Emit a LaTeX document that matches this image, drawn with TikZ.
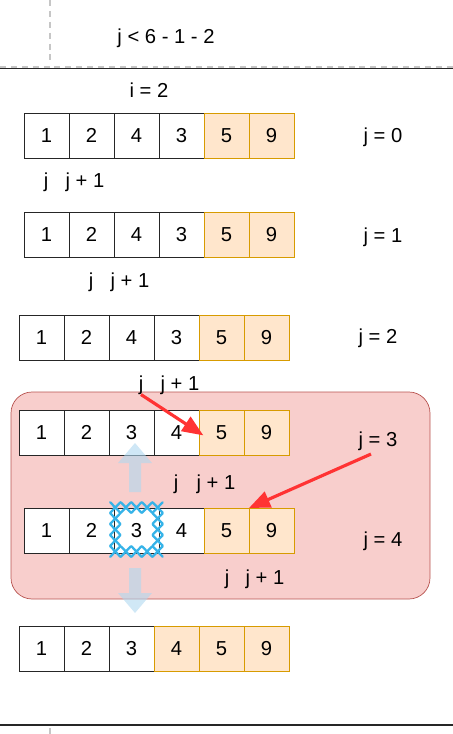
\documentclass[tikz,border=0pt]{standalone}
\usepackage{fontspec}
\setmainfont{Liberation Sans}
\usepackage{tikz}
\usetikzlibrary{positioning, arrows.meta}
\definecolor{sorted}{HTML}{FFE6CC}
\definecolor{sortedline}{HTML}{D79B00}
\definecolor{boxfill}{HTML}{F8CECC}
\definecolor{boxline}{HTML}{B85450}
\definecolor{hot}{HTML}{FF3333}
\definecolor{stitchblue}{HTML}{36B3E8}
\definecolor{moveblue}{HTML}{B0D8F0}
\tikzset{
    node distance=0.9cm, % cells sit side by side
    cell/.style={draw=black!85, fill=white, minimum size=0.9cm, inner sep=0pt, outer sep=0pt}, % one slot of the array
    done/.style={cell, fill=sorted, draw=sortedline}, % slots already in their place
    lbl/.style={anchor=base, inner sep=0pt}, % loose text
    swap/.style={draw=hot, line width=1.8pt, -{Triangle[length=12pt, width=9.5pt]}}, % the red pointers
    blockarr/.style={fill=moveblue, fill opacity=0.6}, % the 3 moving up and down
    stitch/.style={draw=stitchblue, line width=1.3pt, line cap=round}, % cross marks round the picked slot
}

\begin{document}
\begin{tikzpicture}[x=0.02cm, y=-0.02cm, font=\fontsize{11.5pt}{13pt}\selectfont]
    \useasboundingbox (0,0) rectangle (453,734);

    % frame lines
    \draw[gray!45, line width=0.85pt, dash pattern=on 3.4pt off 2.8pt] (50,0) -- (50,62);
    \draw[gray!45, line width=0.85pt, dash pattern=on 3.4pt off 2.8pt] (0,67) -- (453,67);
    \draw[black!85, line width=0.6pt] (0,68.5) -- (453,68.5);
    \draw[black!85, line width=0.6pt] (0,725) -- (453,725);
    \draw[gray!45, line width=0.85pt] (50,728) -- (50,734);

    \node[lbl] (cond) at (166,43) {j < 6 - 1 - 2};
    \node[lbl] (pass) at (149,97) {i = 2};

    % the box round j = 3 and j = 4
    \draw[boxline, fill=boxfill, rounded corners=12pt] (11,392) rectangle (430,599);

    % j = 0
    \node[cell] (a1) at (46.5,135.5) {1};
    \node[cell, right of=a1] (a2) {2};
    \node[cell, right of=a2] (a3) {4};
    \node[cell, right of=a3] (a4) {3};
    \node[done, right of=a4] (a5) {5};
    \node[done, right of=a5] (a6) {9};
    \node[lbl] (s0) at (383,142) {j = 0};
    \node[lbl] (ja) at (46,187) {j};
    \node[lbl] (ka) at (85,187) {j + 1};

    % j = 1
    \node[cell] (b1) at (46.5,234.5) {1};
    \node[cell, right of=b1] (b2) {2};
    \node[cell, right of=b2] (b3) {4};
    \node[cell, right of=b3] (b4) {3};
    \node[done, right of=b4] (b5) {5};
    \node[done, right of=b5] (b6) {9};
    \node[lbl] (s1) at (383,242) {j = 1};
    \node[lbl] (jb) at (91,287) {j};
    \node[lbl] (kb) at (130,287) {j + 1};

    % j = 2
    \node[cell] (c1) at (41.5,337.5) {1};
    \node[cell, right of=c1] (c2) {2};
    \node[cell, right of=c2] (c3) {4};
    \node[cell, right of=c3] (c4) {3};
    \node[done, right of=c4] (c5) {5};
    \node[done, right of=c5] (c6) {9};
    \node[lbl] (s2) at (378,343) {j = 2};
    \node[lbl] (jc) at (141,390) {j};
    \node[lbl] (kc) at (180,390) {j + 1};

    % j = 3
    \node[cell] (d1) at (41.5,432.5) {1};
    \node[cell, right of=d1] (d2) {2};
    \node[cell, right of=d2] (d3) {3};
    \node[cell, right of=d3] (d4) {4};
    \node[done, right of=d4] (d5) {5};
    \node[done, right of=d5] (d6) {9};
    \node[lbl] (s3) at (378,446) {j = 3};
    \node[lbl] (jd) at (176,489) {j};
    \node[lbl] (kd) at (216,489) {j + 1};

    % j = 4
    \node[cell] (e1) at (46.5,530.5) {1};
    \node[cell, right of=e1] (e2) {2};
    \node[cell, right of=e2] (e3) {3};
    \node[cell, right of=e3] (e4) {4};
    \node[done, right of=e4] (e5) {5};
    \node[done, right of=e5] (e6) {9};
    \node[lbl] (s4) at (383,546) {j = 4};
    \node[lbl] (je) at (227,584) {j};
    \node[lbl] (ke) at (265,584) {j + 1};

    % after the pass
    \node[cell] (f1) at (41.5,648.5) {1};
    \node[cell, right of=f1] (f2) {2};
    \node[cell, right of=f2] (f3) {3};
    \node[done, right of=f3] (f4) {4};
    \node[done, right of=f4] (f5) {5};
    \node[done, right of=f5] (f6) {9};

    % cross marks round the 3
    \foreach \i in {-2,...,2}
        \foreach \j in {-2,2}
            \draw[stitch] ([shift={(\i*10.6,\j*11-1)}]e3.center) +(-5,-5.2) -- +(5,5.2) +(-5,5.2) -- +(5,-5.2);
    \foreach \i in {-2,2}
        \foreach \j in {-1,0,1}
            \draw[stitch] ([shift={(\i*10.6,\j*11-1)}]e3.center) +(-5,-5.2) -- +(5,5.2) +(-5,5.2) -- +(5,-5.2);

    % the 3 moves
    \fill[blockarr] (129,492) -- (129,463) -- (118,463) -- (135,443) -- (152,463) -- (141,463) -- (141,492) -- cycle;
    \fill[blockarr] (129,568) -- (129,593) -- (118,593) -- (135,613) -- (152,593) -- (141,593) -- (141,568) -- cycle;

    \draw[swap, shorten >=-3pt] (jc.south) -- (d5.west);
    \draw[swap] ([xshift=-4pt, yshift=-2pt]s3.south) -- (e6.north west);
\end{tikzpicture}
\end{document}
